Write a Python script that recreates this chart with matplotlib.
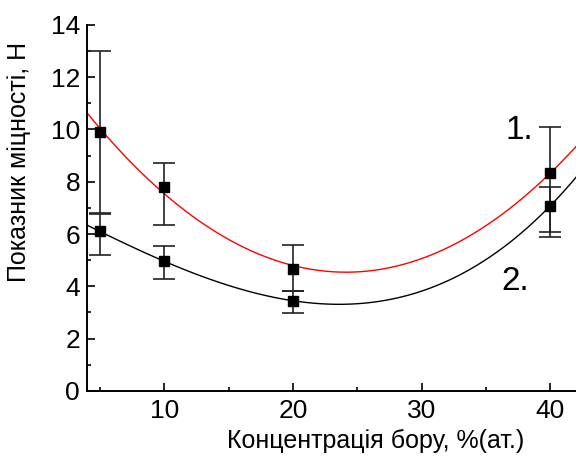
import matplotlib
matplotlib.use("Agg")
import matplotlib.pyplot as plt
import numpy as np
from matplotlib.ticker import MultipleLocator

plt.rcParams['font.family'] = ['Liberation Sans', 'DejaVu Sans']

# концентрація бору, %(ат.)
conc = [5, 10, 20, 40]

# серія 1 (червона крива, поліном 2-го порядку)
s1_y = [9.9, 7.8, 4.67, 8.35]
s1_lo = [6.8, 6.36, 3.83, 6.07]
s1_hi = [13.0, 8.71, 5.58, 10.11]

# серія 2 (чорна крива, поліном 3-го порядку)
s2_y = [6.1, 4.96, 3.45, 7.08]
s2_lo = [5.18, 4.27, 2.98, 5.9]
s2_hi = [6.78, 5.54, 3.83, 7.79]

x_min, x_max = 4, 42
y_min, y_max = 0, 14

fig = plt.figure(figsize=(5.76, 4.61), dpi=100)
ax = fig.add_axes([0.151, 0.152, 0.849, 0.794])

xs = np.linspace(x_min, x_max, 200)
for y, lo, hi, col, deg in [(s1_y, s1_lo, s1_hi, 'red', 2), (s2_y, s2_lo, s2_hi, 'black', 3)]:
    y = np.array(y)
    yerr = [y - np.array(lo), np.array(hi) - y]
    ax.errorbar(conc, y, yerr=yerr, fmt='s', color='black', ms=7.5,
                ecolor='#222222', elinewidth=1.2, capsize=8, capthick=1.2, zorder=3)
    coef = np.polyfit(conc, y, deg)
    ax.plot(xs, np.polyval(coef, xs), color=col, lw=1, zorder=2)

ax.text(37.6, 9.95, '1.', fontsize=24, ha='center', va='center')
ax.text(37.3, 4.17, '2.', fontsize=24, ha='center', va='center')

ax.set_xlim(x_min, x_max)
ax.set_ylim(y_min, y_max)
ax.xaxis.set_major_locator(MultipleLocator(10))
ax.xaxis.set_minor_locator(MultipleLocator(5))
ax.yaxis.set_major_locator(MultipleLocator(2))
ax.yaxis.set_minor_locator(MultipleLocator(1))
ax.tick_params(which='both', direction='in', labelsize=19, width=1.2)
ax.tick_params(which='major', length=6)
ax.tick_params(which='minor', length=3)
ax.tick_params(axis='x', pad=6)
ax.tick_params(axis='y', pad=5)
ax.spines['top'].set_visible(False)
ax.spines['right'].set_visible(False)
ax.spines['left'].set_linewidth(1.4)
ax.spines['bottom'].set_linewidth(1.4)

ax.set_xlabel('Концентрація бору, %(ат.)', fontsize=18)
ax.set_ylabel('Показник міцності, Н', fontsize=18)
ax.xaxis.set_label_coords(0.59, -0.103)
ax.yaxis.set_label_coords(-0.115, 0.625)

fig.savefig('out.png', dpi=100)
